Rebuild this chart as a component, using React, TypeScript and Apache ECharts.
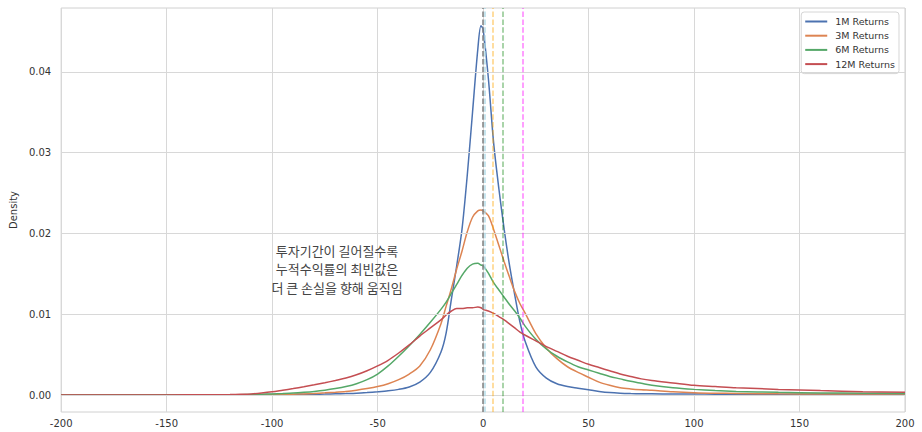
import React, { useEffect, useRef } from "react";
import * as echarts from "echarts";

const xs = [-200, -180, -160, -140, -130, -120, -115, -110, -105, -100,
  -95, -90, -85, -80, -75, -70, -65, -60, -55, -50,
  -45, -40, -35, -30, -25, -20, -17.5, -15, -12.5, -10,
  -7.5, -5, -2.5, -1, 0, 2.5, 5, 7.5, 10, 12.5,
  15, 17.5, 20, 25, 30, 35, 40, 45, 50, 55,
  60, 65, 70, 75, 80, 90, 100, 110, 120, 140,
  160, 180, 200];

const returns1M = [0.00002, 0.00002, 0.00002, 0.00003, 0.00003, 0.00004, 0.00004, 0.00005, 0.00005, 0.00006,
  0.00007, 0.00008, 0.00009, 0.0001, 0.00012, 0.00015, 0.00018, 0.00022, 0.0003, 0.0004,
  0.00052, 0.0007, 0.001, 0.0016, 0.0028, 0.0053, 0.0077, 0.0119, 0.016, 0.0205,
  0.0272, 0.035, 0.0428, 0.0457, 0.0453, 0.0392, 0.0312, 0.0255, 0.0205, 0.0161,
  0.0124, 0.009, 0.0066, 0.0035, 0.0021, 0.0014, 0.00105, 0.00085, 0.00065, 0.00045,
  0.0003, 0.00022, 0.00018, 0.00016, 0.00015, 0.00013, 0.00012, 0.00011, 0.0001, 0.0001,
  0.0001, 0.0001, 0.0001];

const returns3M = [0.00001, 0.00001, 0.00001, 0.00001, 0.00001, 0.00002, 0.00002, 0.00003, 0.00004, 0.00005,
  0.00007, 0.0001, 0.00014, 0.0002, 0.00027, 0.00035, 0.00045, 0.0006, 0.0008, 0.00105,
  0.0014, 0.0019, 0.0026, 0.0036, 0.0056, 0.0088, 0.011, 0.0132, 0.0156, 0.0178,
  0.0202, 0.022, 0.0228, 0.0229, 0.0228, 0.0222, 0.0205, 0.0185, 0.0165, 0.0146,
  0.0128, 0.0113, 0.0101, 0.0076, 0.0058, 0.0045, 0.0035, 0.0028, 0.0022, 0.0016,
  0.0012, 0.0009, 0.00075, 0.00065, 0.00058, 0.0004, 0.00028, 0.00022, 0.0002, 0.00015,
  0.00013, 0.00012, 0.00012];

const returns6M = [0.00001, 0.00001, 0.00001, 0.00001, 0.00002, 0.00003, 0.00005, 0.00007, 0.0001, 0.00014,
  0.00019, 0.00025, 0.00034, 0.00045, 0.0006, 0.0008, 0.00105, 0.0014, 0.0019, 0.0026,
  0.0036, 0.0048, 0.0061, 0.0075, 0.009, 0.0106, 0.0115, 0.0126, 0.0137, 0.0148,
  0.0157, 0.0162, 0.0163, 0.0161, 0.016, 0.0151, 0.0139, 0.013, 0.0121, 0.0112,
  0.0104, 0.0095, 0.0085, 0.0069, 0.0057, 0.0048, 0.0041, 0.0035, 0.0031, 0.0027,
  0.0023, 0.002, 0.0017, 0.00145, 0.0012, 0.0009, 0.0007, 0.00055, 0.00045, 0.00033,
  0.00026, 0.00022, 0.0002];

const returns12M = [0.00001, 0.00001, 0.00001, 0.00002, 0.00003, 0.00006, 0.00009, 0.00014, 0.00025, 0.0004,
  0.0006, 0.0008, 0.00102, 0.00126, 0.00152, 0.0018, 0.0021, 0.0025, 0.0030, 0.0036,
  0.0043, 0.0052, 0.0062, 0.0073, 0.0083, 0.0093, 0.0099, 0.0104, 0.0107, 0.0107,
  0.0108, 0.0108, 0.0109, 0.0108, 0.0106, 0.0104, 0.0101, 0.0097, 0.0093, 0.0088,
  0.0083, 0.0078, 0.0074, 0.0067, 0.006, 0.0054, 0.0048, 0.0043, 0.0038, 0.0034,
  0.003, 0.0026, 0.0023, 0.002, 0.0018, 0.0015, 0.0012, 0.00105, 0.0009, 0.0007,
  0.00055, 0.00042, 0.00033];

const seriesNames = ["1M Returns", "3M Returns", "6M Returns", "12M Returns"];
const seriesColors = ["#4c72b0", "#dd8452", "#55a868", "#c44e52"];

// vertical reference lines (x positions)
const refLineX = [0.8, 0, 4.6, 9.2, 18.7];
const refLineColors = ["rgba(173,216,230,0.9)", "#808080", "rgba(255,165,0,0.5)", "rgba(0,128,0,0.45)", "rgba(255,0,255,0.5)"];

const yTicks = [0, 0.01, 0.02, 0.03, 0.04];
const annotation = ["투자기간이 길어질수록", "누적수익률의 최빈값은", "더 큰 손실을 향해 움직임"];

export default function App() {
  const ref = useRef<HTMLDivElement>(null);
  useEffect(() => {
    if (!ref.current) return;
    const chart = echarts.init(ref.current, null, { renderer: "svg" });
    const allData = [returns1M, returns3M, returns6M, returns12M];
    const font = "DejaVu Sans";
    const series: any[] = allData.map((arr, i) => ({
      name: seriesNames[i],
      type: "line",
      data: xs.map((x, j) => [x, arr[j]]),
      showSymbol: false,
      smooth: 0.3,
      lineStyle: { color: seriesColors[i], width: 1.5 },
      itemStyle: { color: seriesColors[i] },
      z: 3,
    }));
    series.push({
      name: "grid",
      type: "line",
      data: [],
      z: 1,
      silent: true,
      markLine: {
        silent: true,
        symbol: "none",
        label: { show: false },
        lineStyle: { color: "#d8d8d8", width: 1, type: "solid" },
        data: yTicks.map((v) => ({ yAxis: v })),
      },
    });
    series.push({
      name: "ref",
      type: "line",
      data: [],
      z: 4,
      silent: true,
      markLine: {
        silent: true,
        symbol: "none",
        label: { show: false },
        data: refLineX.map((v, i) => ({
          xAxis: v,
          lineStyle: { color: refLineColors[i], width: 1.5, type: [5.5, 2.4] },
        })),
      },
    });
    const lineCenters = [250, 268.7, 287.4];
    chart.setOption({
      animation: false,
      backgroundColor: "#ffffff",
      grid: {
        left: 60,
        right: 17,
        top: 8,
        bottom: 20,
        show: true,
        borderColor: "#d0d0d0",
        borderWidth: 1,
        backgroundColor: "transparent",
      },
      legend: {
        data: seriesNames,
        orient: "vertical",
        right: 23,
        top: 12,
        padding: [4, 4, 4, 4],
        itemGap: 3.2,
        itemWidth: 22,
        itemHeight: 2,
        icon: "rect",
        backgroundColor: "#ffffff",
        borderColor: "#d6d6d6",
        borderWidth: 1,
        borderRadius: 3,
        textStyle: { fontFamily: font, fontSize: 9.5, color: "#333", lineHeight: 11, padding: [0, 0, 0, 3] },
      },
      xAxis: {
        type: "value",
        min: -200,
        max: 200,
        interval: 50,
        axisLine: { show: false },
        axisTick: { show: false },
        axisLabel: { fontFamily: font, fontSize: 10, color: "#333", margin: 6 },
        splitLine: { show: true, lineStyle: { color: "#d8d8d8", width: 1 } },
      },
      yAxis: {
        type: "value",
        min: -0.0021,
        max: 0.0479,
        name: "Density",
        nameLocation: "middle",
        nameGap: 38,
        nameRotate: 90,
        nameTextStyle: { fontFamily: font, fontSize: 10, color: "#333" },
        axisLine: { show: false },
        axisTick: { show: false, customValues: yTicks },
        axisLabel: {
          fontFamily: font,
          fontSize: 10,
          color: "#333",
          margin: 10,
          customValues: yTicks,
          formatter: (v: number) => v.toFixed(2),
        },
        splitLine: { show: false },
      },
      graphic: annotation.map((t, i) => ({
        type: "text",
        x: 337,
        y: lineCenters[i],
        z: 10,
        style: {
          text: t,
          align: "center",
          verticalAlign: "middle",
          textAlign: "center",
          textVerticalAlign: "middle",
          fontFamily: "Noto Sans CJK KR",
          fontSize: 13,
          fill: "#444",
        } as any,
      })),
      series,
    });
    return () => chart.dispose();
  }, []);
  return (
    <div
      ref={ref}
      style={{ position: "fixed", left: 0, top: 0, width: 922, height: 432, background: "#fff" }}
    />
  );
}
